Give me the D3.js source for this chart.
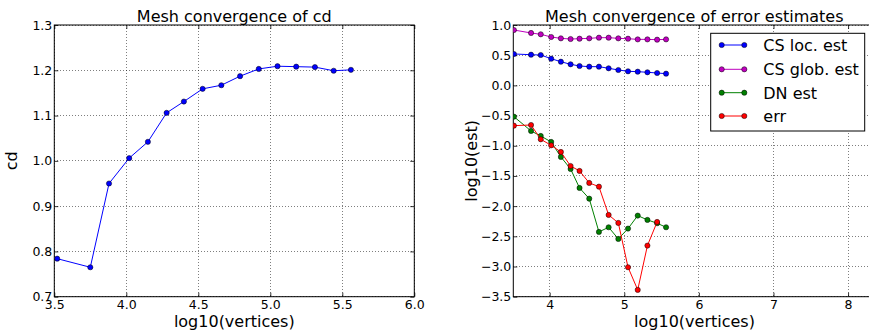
<!DOCTYPE html>
<html><head><meta charset="utf-8">
<script src="https://cdn.jsdelivr.net/npm/d3@7"></script>
<style>body{margin:0;background:#fff}svg{display:block;font-family:"DejaVu Sans",sans-serif}</style>
</head><body><svg id="c" width="869" height="335"></svg>
<script>
// ---- data ----
const logVerts = [3.52,3.75,3.88,4.02,4.15,4.28,4.40,4.53,4.66,4.79,4.92,5.05,5.18,5.31,5.44,5.56];
const cd       = [0.784,0.765,0.950,1.006,1.042,1.106,1.131,1.159,1.167,1.187,1.203,1.209,1.208,1.207,1.199,1.201];
const csLoc    = [0.520,0.508,0.503,0.442,0.392,0.349,0.321,0.310,0.310,0.283,0.255,0.233,0.227,0.217,0.205,0.194];
const csGlob   = [0.917,0.868,0.846,0.801,0.779,0.768,0.773,0.779,0.790,0.790,0.779,0.773,0.762,0.762,0.757,0.762];
const dnEst    = [-0.518,-0.755,-0.838,-0.937,-1.185,-1.384,-1.699,-1.876,-2.427,-2.350,-2.543,-2.372,-2.157,-2.228,-2.283,-2.350];
const errVals  = [-0.667,-0.656,-0.893,-0.993,-1.103,-1.335,-1.417,-1.616,-1.677,-2.146,-2.278,-3.012,-3.387,-2.654,-2.262];
const leftXTicks = [3.5,4.0,4.5,5.0,5.5,6.0];
const leftYTicks = [0.7,0.8,0.9,1.0,1.1,1.2,1.3];
const rightXTicks = [4,5,6,7,8];
const rightYTicks = [1.0,0.5,0.0,-0.5,-1.0,-1.5,-2.0,-2.5,-3.0,-3.5];
const seriesNames = ["CS loc. est","CS glob. est","DN est","err"];
const seriesColors = ["#0000ff","#bf00bf","#008000","#ff0000"];

const svg = d3.select("#c");
const fmt1 = d => d3.format(".1f")(d).replace("-","\u2212");

function panel(opt){
  const g = svg.append("g");
  const x = d3.scaleLinear().domain(opt.xd).range(opt.xr);
  const y = d3.scaleLinear().domain(opt.yd).range(opt.yr);
  const [x0,x1]=opt.xr, [y1,y0]=opt.yr;
  const clipId = "clip"+opt.id;
  svg.append("clipPath").attr("id",clipId).append("rect").attr("x",x0).attr("y",y0-3).attr("width",x1-x0+3).attr("height",y1-y0+6);
  // grid
  g.selectAll(".gx").data(opt.xt).join("line").attr("x1",d=>x(d)).attr("x2",d=>x(d)).attr("y1",y0).attr("y2",y1)
    .attr("stroke","#000").attr("stroke-width",0.5).attr("stroke-dasharray","1,2").attr("shape-rendering","crispEdges");
  g.selectAll(".gy").data(opt.yt).join("line").attr("y1",d=>y(d)).attr("y2",d=>y(d)).attr("x1",x0).attr("x2",x1)
    .attr("stroke","#000").attr("stroke-width",0.5).attr("stroke-dasharray","1,2").attr("shape-rendering","crispEdges");
  // axes with inward ticks
  const ax = d3.axisBottom(x).tickValues(opt.xt).tickFormat(opt.xf).tickSizeInner(-4).tickSizeOuter(0).tickPadding(6);
  const ay = d3.axisLeft(y).tickValues(opt.yt).tickFormat(opt.yf).tickSizeInner(-4).tickSizeOuter(0).tickPadding(6);
  const gxA = g.append("g").attr("transform",`translate(0,${y1})`).call(ax);
  const gyA = g.append("g").attr("transform",`translate(${x0},0)`).call(ay);
  const axt = d3.axisTop(x).tickValues(opt.xt).tickFormat("").tickSizeInner(-4).tickSizeOuter(0);
  const ayr = d3.axisRight(y).tickValues(opt.yt).tickFormat("").tickSizeInner(-4).tickSizeOuter(0);
  g.append("g").attr("transform",`translate(0,${y0})`).call(axt);
  g.append("g").attr("transform",`translate(${x1},0)`).call(ayr);
  g.selectAll(".domain").remove();
  g.selectAll(".tick line").attr("stroke","#000").attr("stroke-width",0.8);
  g.selectAll(".tick text").attr("fill","#000").attr("font-size",12.5).attr("font-family","DejaVu Sans");
  gyA.selectAll(".tick text").attr("x",-2);
  gxA.selectAll(".tick text").attr("y",3.5);
  // spines
  g.append("rect").attr("x",x0).attr("y",y0).attr("width",x1-x0).attr("height",y1-y0)
    .attr("fill","none").attr("stroke","#000").attr("stroke-width",1);
  // title and labels
  g.append("text").attr("x",(x0+x1)/2).attr("y",22).attr("text-anchor","middle").attr("font-size",16).text(opt.title);
  g.append("text").attr("x",opt.xlx).attr("y",327).attr("text-anchor","middle").attr("font-size",16).text("log10(vertices)");
  g.append("text").attr("transform",`translate(${opt.ylx},${(y0+y1)/2}) rotate(-90)`).attr("text-anchor","middle").attr("font-size",16).text(opt.ylabel);
  const plot = g.append("g").attr("clip-path",`url(#${clipId})`);
  return {x,y,plot,g};
}

// left panel
const L = panel({id:"L",xd:[3.5,6.0],xr:[54.3,414.3],yd:[0.7,1.3],yr:[296.7,25],xt:leftXTicks,yt:leftYTicks,
  xf:d=>d3.format(".1f")(d), yf:d=>d3.format(".1f")(d), title:"Mesh convergence of cd", ylabel:"cd", xlx:234.3, ylx:17});
function drawSeries(P, xs, ys, color){
  const pts = ys.map((v,i)=>[xs[i],v]);
  P.plot.append("path").datum(pts).attr("fill","none").attr("stroke",color).attr("stroke-width",1)
    .attr("d",d3.line().x(d=>P.x(d[0])).y(d=>P.y(d[1])));
  P.plot.selectAll(null).data(pts).join("circle").attr("cx",d=>P.x(d[0])).attr("cy",d=>P.y(d[1])).attr("r",2.6)
    .attr("fill",color).attr("stroke","#000").attr("stroke-width",0.5);
}
drawSeries(L, logVerts, cd, "#0000ff");

// right panel
const R = panel({id:"R",xd:[3.512,8.365],xr:[513.3,875.3],yd:[-3.5,1.0],yr:[296.7,25],xt:rightXTicks,yt:rightYTicks,
  xf:d=>d3.format("d")(d), yf:fmt1, title:"Mesh convergence of error estimates", ylabel:"log10(est)", xlx:694.5, ylx:476.5});
const allSeries = [csLoc, csGlob, dnEst, errVals];
allSeries.forEach((s,i)=>drawSeries(R, logVerts, s, seriesColors[i]));

// legend
const lg = svg.append("g");
lg.append("rect").attr("x",710.7).attr("y",33.3).attr("width",154).attr("height",97.7)
  .attr("fill","#fff").attr("stroke","#000").attr("stroke-width",1);
const rowY = [45,69.3,92.7,116];
seriesNames.forEach((n,i)=>{
  const yy = rowY[i];
  lg.append("line").attr("x1",721.7).attr("x2",744.3).attr("y1",yy).attr("y2",yy).attr("stroke",seriesColors[i]).attr("stroke-width",1);
  [721.7,744.3].forEach(xx=>lg.append("circle").attr("cx",xx).attr("cy",yy).attr("r",2.6).attr("fill",seriesColors[i]).attr("stroke","#000").attr("stroke-width",0.5));
  lg.append("text").attr("x",763.3).attr("y",yy+5.8).attr("font-size",16).text(n);
});
</script></body></html>
